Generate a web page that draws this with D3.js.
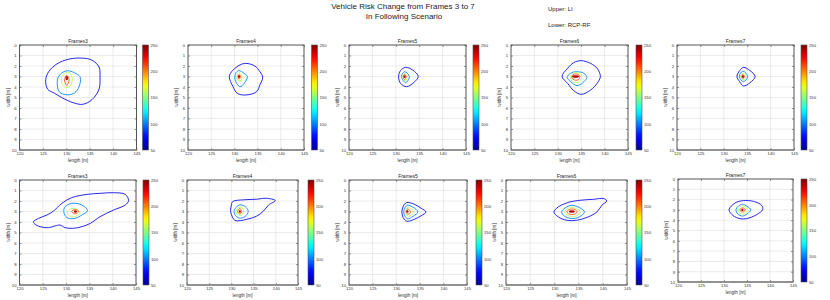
<!DOCTYPE html>
<html>
<head>
<meta charset="utf-8">
<script src="https://cdn.jsdelivr.net/npm/d3@7"></script>
<style>
  body { margin: 0; background: #fff; }
  svg { display: block; font-family: "Liberation Sans", Arial, sans-serif; }
</style>
</head>
<body>
<div id="chart"></div>
<script>
// =============================
// DATA
// =============================
const frameNames = ["Frames3", "Frames4", "Frames5", "Frames6", "Frames7"];
const xTicks = [120, 125, 130, 135, 140, 145];
const yTicks = [0, 1, 2, 3, 4, 5, 6, 7, 8, 9, 10];
const cbTicks = [50, 100, 150, 200, 250];
// contour levels, outermost first
const levels = [70, 100, 160, 210, 240];

// each contour: list of [length, width] points
// Upper row: LI
const liFrame3 = [
  [[133.5,1.25],[135.5,1.45],[137,2.1],[137.2,3.1],[137,4.2],[135.5,5.2],[133.5,5.65],[131.5,5.5],[129,5.0],[127.5,4.6],[126,4.2],[125.6,3.3],[126.3,2.5],[128,1.8],[130.5,1.35]],
  [[130.2,2.45],[132.2,2.75],[133,3.1],[132.7,4.0],[131.8,4.55],[130.2,4.75],[128.5,4.45],[128.1,3.3],[128.8,2.75]],
  [[130.1,2.6],[131.2,2.95],[131,3.8],[130.1,4.05],[129.2,3.8],[129.05,3.0]],
  [[130.1,2.9],[130.6,3.3],[130.1,3.85],[129.6,3.3]],
  [[130.1,3.0],[130.25,3.15],[130.1,3.3],[129.95,3.15]]
];
const liFrame4 = [
  [[132.5,1.75],[134.4,2.0],[135.5,2.54],[136.1,3.08],[135.5,3.8],[134.8,4.44],[132.5,4.76],[130.6,4.6],[129.7,3.97],[128.9,3.0],[129.6,2.44],[131.2,1.9]],
  [[131,2.44],[132.1,2.7],[132.8,3.0],[132.1,3.65],[131.2,3.97],[130.3,3.5],[130.1,3.0],[130.4,2.6]],
  [[131,2.63],[131.6,3.0],[131.1,3.5],[130.5,3.05]],
  [[131,2.8],[131.3,3.0],[131,3.27],[130.75,3.0]],
  [[131,2.93],[131.1,3.0],[131,3.08],[130.9,3.0]]
];
const liFrame5 = [
  [[132.1,2.13],[133.6,2.38],[134.8,3.0],[133.8,3.59],[132.3,3.97],[131,3.65],[130.6,3.0],[131,2.44]],
  [[131.9,2.54],[132.9,3.0],[132.1,3.59],[131.2,3.0]],
  [[131.9,2.7],[132.5,3.0],[132,3.4],[131.5,3.0]],
  [[131.9,2.8],[132.2,3.0],[131.9,3.3],[131.6,3.0]],
  [[131.9,2.93],[132,3.0],[131.9,3.08],[131.8,3.0]]
];
const liFrame6 = [
  [[135,1.49],[137,1.75],[138.4,2.22],[139.1,3.0],[138.4,3.65],[137,4.29],[135,4.7],[133.4,4.35],[132.1,3.65],[130.9,3.0],[132.1,2.22],[133.4,1.68]],
  [[134,2.54],[135.6,2.7],[136.2,3.08],[135.6,3.5],[134.1,3.87],[132.8,3.5],[132,3.08],[132.7,2.7]],
  [[133.8,2.6],[134.9,2.85],[135.1,3.2],[134.6,3.5],[133.8,3.6],[133.0,3.4],[132.7,3.05],[133.1,2.75]],
  [[133.8,2.75],[134.5,2.85],[134.7,3.05],[134.4,3.3],[133.8,3.35],[133.2,3.25],[133.0,3.05],[133.2,2.85]],
  [[133.2,3.0],[133.8,2.94],[134.4,3.0],[133.8,3.06]]
];
const liFrame7 = [
  [[134.2,2.13],[135.6,2.44],[136.7,3.0],[135.6,3.59],[134.2,3.9],[133.4,3.5],[132.8,3.0],[133.4,2.44]],
  [[134.1,2.48],[135.1,3.0],[134.2,3.5],[133.3,3.0]],
  [[134.1,2.7],[134.7,3.0],[134.2,3.33],[133.6,3.0]],
  [[134.1,2.8],[134.4,3.0],[134.1,3.2],[133.8,3.0]],
  [[134.1,2.93],[134.2,3.0],[134.1,3.08],[134.0,3.0]]
];
// Lower row: RCP-RF
const rcpFrame3 = [
  [[123,3.97],[124.1,3.65],[125.9,3.33],[127.3,2.95],[129.1,2.22],[131.2,1.68],[134.5,1.37],[137.3,1.27],[140.2,1.21],[142.7,1.37],[143.4,1.97],[142.7,2.38],[140.2,2.86],[137.3,3.49],[135.2,4.13],[133.4,4.44],[131.6,4.6],[129.8,4.54],[128.7,4.29],[127.6,4.38],[126.2,4.54],[124.4,4.44],[123.3,4.2]],
  [[131.2,2.22],[133.4,2.38],[134.6,2.92],[133.4,3.33],[131.9,3.65],[130.2,3.59],[129.5,3.02],[129.8,2.54]],
  [[131.3,2.7],[132.6,2.9],[133,3.15],[132.3,3.4],[131.3,3.5],[130.4,3.3],[130.3,3.0],[130.7,2.8]],
  [[132,2.8],[132.7,3.0],[132,3.22],[131.2,3.0]],
  [[132,2.94],[132.2,3.0],[132,3.06],[131.8,3.0]]
];
const rcpFrame4 = [
  [[130.3,2.05],[132.7,1.89],[135.7,1.83],[137.8,1.74],[139.9,1.96],[138.4,2.37],[137.2,2.97],[135.7,3.44],[133.4,3.75],[130.8,3.85],[130,3.28],[129.8,2.9],[130,2.4]],
  [[131.9,2.37],[133.1,2.52],[133.8,2.99],[133.1,3.47],[131.8,3.63],[130.8,3.31],[130.6,2.99],[131.1,2.59]],
  [[131.9,2.59],[132.7,2.84],[132.5,3.25],[131.8,3.38],[131.1,3.15],[131.3,2.75]],
  [[131.9,2.7],[132.3,3.0],[131.9,3.25],[131.4,3.0]],
  [[131.9,2.94],[132,3.0],[131.9,3.06],[131.8,3.0]]
];
const rcpFrame5 = [
  [[132.2,2.15],[133.8,2.3],[135.3,2.7],[136.3,3.04],[135.3,3.4],[133.8,3.75],[132.2,3.93],[131.5,3.6],[131.2,3.04],[131.5,2.5]],
  [[132.4,2.4],[133.6,2.6],[134.6,3.04],[133.6,3.45],[132.4,3.7],[131.8,3.4],[131.6,3.04],[131.9,2.6]],
  [[132.5,2.6],[133.3,2.8],[133.8,3.04],[133.3,3.3],[132.5,3.45],[132.0,3.2],[131.9,3.0],[132.1,2.75]],
  [[132.4,2.75],[132.9,2.9],[133.1,3.04],[132.8,3.2],[132.4,3.25],[132.1,3.04]],
  [[132.4,2.94],[132.5,3.0],[132.4,3.06],[132.3,3.0]]
];
const rcpFrame6 = [
  [[133.2,2.09],[135.3,1.93],[138.1,1.84],[140.2,1.77],[140.8,2.0],[139.8,2.41],[138.8,3.04],[137,3.51],[134.6,3.83],[132.5,3.83],[130.8,3.51],[129.9,3.04],[130.8,2.56],[132.2,2.25]],
  [[133.6,2.41],[135.3,2.66],[136.2,3.04],[135.2,3.51],[133.6,3.67],[132,3.42],[131.5,3.04],[132.2,2.66]],
  [[133.6,2.6],[134.8,2.8],[135.4,3.04],[134.8,3.35],[133.6,3.5],[132.5,3.3],[132.1,3.04],[132.6,2.75]],
  [[133.6,2.75],[134.4,2.85],[134.7,3.04],[134.4,3.2],[133.6,3.3],[132.9,3.2],[132.6,3.04],[132.9,2.85]],
  [[133.1,3.0],[133.6,2.94],[134.1,3.0],[133.6,3.06]]
];
const rcpFrame7 = [
  [[134.2,2.1],[136.4,2.17],[138.2,2.56],[138.4,2.98],[137.1,3.46],[134.9,3.85],[133.5,3.85],[132,3.56],[131.1,2.98],[132.4,2.33]],
  [[134,2.45],[135,2.65],[135.8,3.0],[135,3.4],[134,3.6],[133,3.4],[132.6,3.0],[133.1,2.65]],
  [[134,2.6],[134.8,2.8],[135.2,3.0],[134.8,3.25],[134,3.4],[133.3,3.25],[133.0,3.0],[133.3,2.8]],
  [[134,2.8],[134.5,2.9],[134.6,3.0],[134.4,3.15],[134,3.2],[133.6,3.1],[133.4,3.0],[133.6,2.9]],
  [[134,2.94],[134.1,3.0],[134,3.06],[133.9,3.0]]
];

const upperRow = [liFrame3, liFrame4, liFrame5, liFrame6, liFrame7];
const lowerRow = [rcpFrame3, rcpFrame4, rcpFrame5, rcpFrame6, rcpFrame7];

// =============================
// LAYOUT
// =============================
const width = 830, height = 300;
// plot boxes [left, right, top, bottom, colorbar left]
const boxesTop = [
  [19.5, 136.5, 45, 150, 142.5],
  [188, 304, 45, 150, 311.5],
  [349, 466, 45, 150, 473],
  [511, 628, 45, 150, 636],
  [677, 794, 45, 150, 801]
];
const boxesBottom = [
  [19.5, 136, 180, 285, 143],
  [187, 298, 180, 285, 308],
  [349, 467, 180, 285, 476],
  [506, 627, 180, 285, 636],
  [678, 793, 179, 282, 801]
];

const jet = d3.scaleLinear()
  .domain([50, 75, 125, 175, 225, 250])
  .range(["#00008f", "#0000ff", "#00ffff", "#ffff00", "#ff0000", "#800000"])
  .clamp(true);

const svg = d3.select("#chart").append("svg")
  .attr("width", width)
  .attr("height", height);

const defs = svg.append("defs");
const grad = defs.append("linearGradient")
  .attr("id", "jet").attr("x1", 0).attr("x2", 0).attr("y1", 1).attr("y2", 0);
d3.range(0, 1.0001, 0.05).forEach(t => {
  grad.append("stop").attr("offset", t).attr("stop-color", jet(50 + 200 * t));
});

// =============================
// TITLE TEXTS
// =============================
svg.append("text").attr("x", 403).attr("y", 9)
  .attr("text-anchor", "middle").attr("font-size", 8).attr("fill", "#222")
  .text("Vehicle Risk Change from Frames 3 to 7");
svg.append("text").attr("x", 404).attr("y", 18.5)
  .attr("text-anchor", "middle").attr("font-size", 8).attr("fill", "#222")
  .text("In Following Scenario");
svg.append("text").attr("x", 548).attr("y", 11)
  .attr("font-size", 6).attr("fill", "#222").text("Upper: LI");
svg.append("text").attr("x", 548).attr("y", 27)
  .attr("font-size", 6).attr("fill", "#222").text("Lower: RCP-RF");

// =============================
// DRAW ONE PANEL
// =============================
function drawPanel(box, name, contours) {
  const [l, r, t, b, cbx] = box;
  const x = d3.scaleLinear().domain([120, 145]).range([l, r]);
  const y = d3.scaleLinear().domain([0, 10]).range([t, b]);
  const g = svg.append("g");

  // grid
  g.selectAll(".gx").data(xTicks.slice(1, -1)).enter().append("line")
    .attr("x1", d => x(d)).attr("x2", d => x(d)).attr("y1", t).attr("y2", b)
    .attr("stroke", "#e2e2e2").attr("stroke-width", 0.7);
  g.selectAll(".gy").data(yTicks.slice(1, -1)).enter().append("line")
    .attr("x1", l).attr("x2", r).attr("y1", d => y(d)).attr("y2", d => y(d))
    .attr("stroke", "#e2e2e2").attr("stroke-width", 0.7);

  // axes
  g.append("g").attr("transform", `translate(0,${b})`)
    .call(d3.axisBottom(x).tickValues(xTicks).tickSize(-2).tickPadding(2));
  g.append("g").attr("transform", `translate(${l},0)`)
    .call(d3.axisLeft(y).tickValues(yTicks).tickSize(-2).tickPadding(3));
  g.append("g").attr("transform", `translate(${r},0)`)
    .call(d3.axisRight(y).tickValues(yTicks).tickSize(-2).tickFormat(""));
  g.append("g").attr("transform", `translate(0,${t})`)
    .call(d3.axisTop(x).tickValues(xTicks).tickSize(-2).tickFormat(""));
  g.selectAll(".domain").remove();
  g.selectAll(".tick line").attr("stroke", "#555").attr("stroke-width", 0.6);
  g.selectAll(".tick text").attr("font-size", 4.2).attr("fill", "#333")
    .attr("font-family", "'Liberation Sans', Arial, sans-serif");

  // contours
  const line = d3.line()
    .x(d => x(d[0])).y(d => y(d[1]))
    .curve(d3.curveCatmullRomClosed.alpha(0.5));
  contours.forEach((c, i) => {
    g.append("path").attr("d", line(c))
      .attr("fill", "none")
      .attr("stroke", jet(levels[i]))
      .attr("stroke-width", i === 4 ? 1.2 : 0.85)
      .attr("stroke-linejoin", "round");
  });

  // box
  g.append("rect").attr("x", l).attr("y", t).attr("width", r - l).attr("height", b - t)
    .attr("fill", "none").attr("stroke", "#555").attr("stroke-width", 1);
  g.append("line").attr("x1", l).attr("x2", r).attr("y1", b).attr("y2", b)
    .attr("stroke", "#8a8a8a").attr("stroke-width", 1.6);

  // labels
  g.append("text").attr("x", (l + r) / 2).attr("y", t - 2)
    .attr("text-anchor", "middle").attr("font-size", 5).attr("fill", "#222")
    .text(name);
  g.append("text").attr("x", (l + r) / 2).attr("y", b + 11.5)
    .attr("text-anchor", "middle").attr("font-size", 4.6).attr("fill", "#333")
    .text("length [m]");
  g.append("text")
    .attr("transform", `translate(${l - 10},${(t + b) / 2}) rotate(-90)`)
    .attr("text-anchor", "middle").attr("font-size", 4.6).attr("fill", "#333")
    .text("width [m]");

  // colorbar
  const cy = d3.scaleLinear().domain([50, 250]).range([b, t]);
  g.append("rect").attr("x", cbx).attr("y", t).attr("width", 6).attr("height", b - t)
    .attr("fill", "url(#jet)").attr("stroke", "#555").attr("stroke-width", 0.6);
  const ca = g.append("g").attr("transform", `translate(${cbx + 6},0)`)
    .call(d3.axisRight(cy).tickValues(cbTicks).tickSize(0).tickPadding(2));
  ca.select(".domain").remove();
  ca.selectAll("text").attr("font-size", 4.2).attr("fill", "#333")
    .attr("font-family", "'Liberation Sans', Arial, sans-serif");
}

frameNames.forEach((n, i) => drawPanel(boxesTop[i], n, upperRow[i]));
frameNames.forEach((n, i) => drawPanel(boxesBottom[i], n, lowerRow[i]));
</script>
</body>
</html>
